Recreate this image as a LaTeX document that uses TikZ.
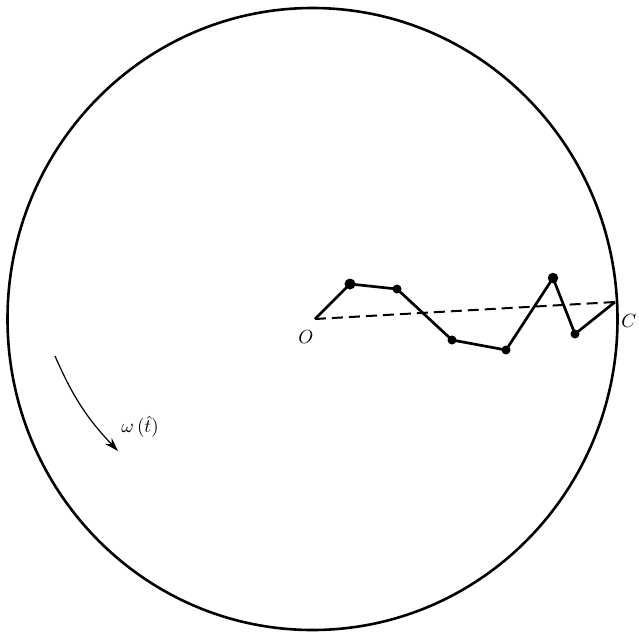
\documentclass[tikz,border=0pt]{standalone}
\usetikzlibrary{arrows.meta}
\begin{document}
\begin{tikzpicture}[x=1pt,y=-1pt,
  walk/.style={line width=2.7pt,line join=round},
  dot/.style={circle,fill=black,inner sep=0pt,minimum size=9pt},
  lbl/.style={scale=1.9}]
\useasboundingbox (0,0) rectangle (639,635);
\draw[line width=2.6pt] (312.5,319) ellipse [x radius=305, y radius=311];
\coordinate (O) at (315,319);
\node[dot,minimum size=11pt] (p1) at (350,284) {};
\node[dot] (p2) at (397,289) {};
\node[dot] (p3) at (452,340) {};
\node[dot] (p4) at (506,350) {};
\node[dot,minimum size=10.5pt] (p5) at (553,278) {};
\node[dot] (p6) at (575,334) {};
\coordinate (E) at (615,302);
\draw[walk] (O) -- (p1.center) -- (p2.center) -- (p3.center) -- (p4.center) -- (p5.center) -- (p6.center) -- (E);
\draw[line width=2pt,dash pattern=on 11pt off 6pt] (O) -- (E);
\node[lbl] (lo) at (306,337) {$O$};
\node[lbl,anchor=west,inner sep=0pt] (lc) at (621,321) {$C$};
\coordinate (a1) at (55,356);
\coordinate (a2) at (118,451);
\draw[line width=1.2pt,-{Stealth[length=14pt,width=9pt]}] (a1) to[bend right=10] (a2);
\node[lbl,anchor=west,inner sep=0pt] (w) at (121,427) {$\omega\,(\hat{t})$};
\end{tikzpicture}
\end{document}
